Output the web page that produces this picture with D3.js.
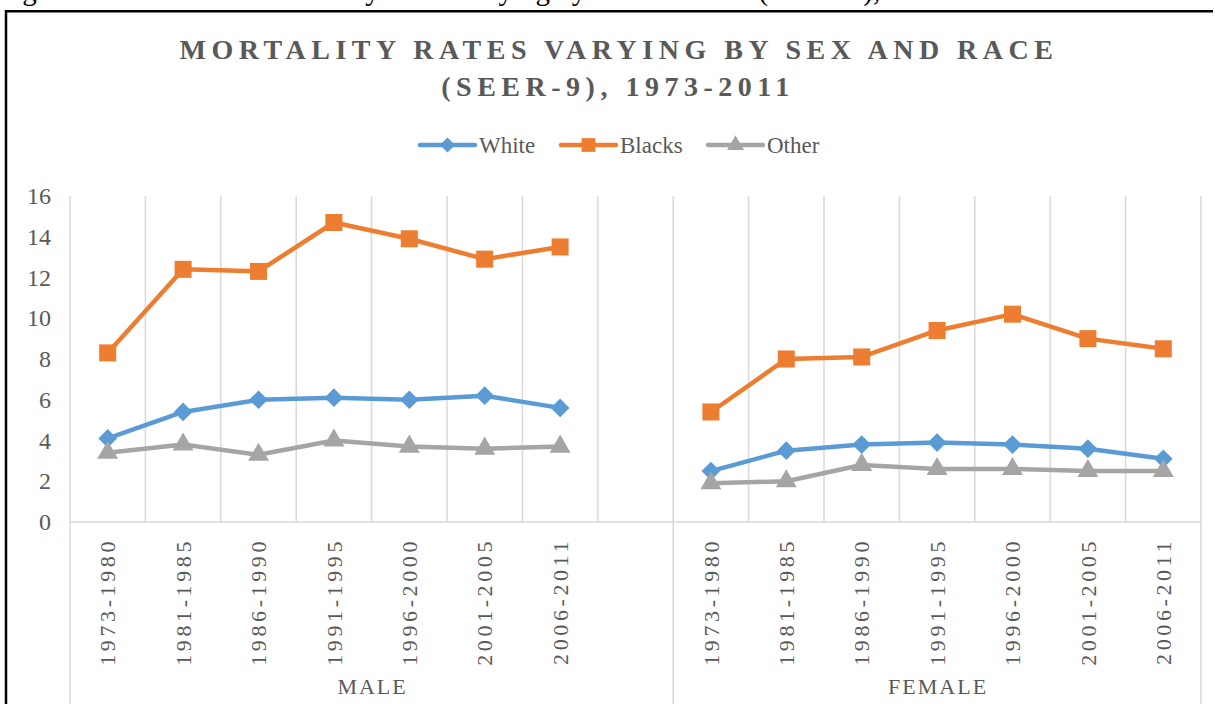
<!DOCTYPE html>
<html>
<head>
<meta charset="utf-8">
<script src="https://cdn.jsdelivr.net/npm/d3@7"></script>
<style>
    html, body { margin: 0; padding: 0; background: #fff; }
    svg { display: block; font-family: "Liberation Serif", "Times New Roman", serif; }
</style>
</head>
<body>
<svg id="chart" width="1215" height="704"></svg>
<script>
(function() {
    // chart data
    const periods = ['1973-1980', '1981-1985', '1986-1990', '1991-1995', '1996-2000', '2001-2005', '2006-2011'];
    const groups = ['MALE', 'FEMALE'];
    const whiteMale = [4.1, 5.4, 6.0, 6.1, 6.0, 6.2, 5.6];
    const whiteFemale = [2.5, 3.5, 3.8, 3.9, 3.8, 3.6, 3.1];
    const blacksMale = [8.3, 12.4, 12.3, 14.7, 13.9, 12.9, 13.5];
    const blacksFemale = [5.4, 8.0, 8.1, 9.4, 10.2, 9.0, 8.5];
    const otherMale = [3.4, 3.8, 3.3, 4.0, 3.7, 3.6, 3.7];
    const otherFemale = [1.9, 2.0, 2.8, 2.6, 2.6, 2.5, 2.5];
    const yTicks = [0, 2, 4, 6, 8, 10, 12, 14, 16];

    // diamond drawn as a square turned by 45 degrees (Excel style)
    const series = [
        { name: 'White', color: '#5B9BD5', symbol: d3.symbolSquare, size: 175, rot: 45, male: whiteMale, female: whiteFemale },
        { name: 'Blacks', color: '#ED7D31', symbol: d3.symbolSquare, size: 290, rot: 0, male: blacksMale, female: blacksFemale },
        { name: 'Other', color: '#A5A5A5', symbol: d3.symbolTriangle, size: 190, rot: 0, male: otherMale, female: otherFemale }
    ];

    const textColor = '#595959';
    const gridColor = '#D9D9D9';
    const svg = d3.select('#chart');

    // caption of the page, cut off at the top
    svg.append('text')
        .attr('x', -2)
        .attr('y', 0)
        .attr('fill', '#000')
        .style('font-size', '29px')
        .text('Figure 4. Consolidated Mortality Rates Varying by Sex and Race (SEER-9), 1973-2011');

    // chart frame
    svg.append('path')
        .attr('d', 'M6,704 V11.3 H1213')
        .attr('fill', 'none')
        .attr('stroke', '#000')
        .attr('stroke-width', 2.5);

    // category slots: male periods, an empty slot, female periods
    const slots = periods.map(p => 'M' + p).concat(['gap']).concat(periods.map(p => 'F' + p));
    const x = d3.scaleBand().domain(slots).range([70, 1201]);
    const y = d3.scaleLinear().domain([0, 16]).range([522, 196]);

    // vertical gridlines at slot boundaries
    const bounds = slots.map(s => x(s)).concat([x.range()[1]]);
    svg.append('g')
        .selectAll('line')
        .data(bounds)
        .enter()
        .append('line')
        .attr('x1', d => d).attr('x2', d => d)
        .attr('y1', y(16)).attr('y2', y(0))
        .attr('stroke', gridColor)
        .attr('stroke-width', 1.5);

    // group separators below the axis
    const groupEdges = [x('M' + periods[0]), x('F' + periods[0]), x.range()[1]];
    svg.append('g')
        .selectAll('line')
        .data(groupEdges)
        .enter()
        .append('line')
        .attr('x1', d => d).attr('x2', d => d)
        .attr('y1', y(0)).attr('y2', 704)
        .attr('stroke', gridColor)
        .attr('stroke-width', 1.5);

    // x axis line
    svg.append('line')
        .attr('x1', 70).attr('x2', 1201)
        .attr('y1', y(0)).attr('y2', y(0))
        .attr('stroke', gridColor)
        .attr('stroke-width', 1.5);

    // y axis labels
    const yAxis = d3.axisLeft(y).tickValues(yTicks).tickSize(0).tickPadding(19);
    const yg = svg.append('g').attr('transform', 'translate(70,0)').call(yAxis);
    yg.select('.domain').remove();
    yg.selectAll('text')
        .attr('fill', textColor)
        .style('font-family', '"Liberation Serif", serif')
        .style('font-size', '24px');

    // rotated period labels
    const half = x.bandwidth() / 2;
    svg.append('g')
        .selectAll('text')
        .data(slots.filter(s => s !== 'gap'))
        .enter()
        .append('text')
        .attr('transform', d => 'translate(' + (x(d) + half) + ',538) rotate(-90)')
        .attr('dy', '0.35em')
        .attr('text-anchor', 'end')
        .attr('fill', textColor)
        .style('font-size', '22px')
        .style('letter-spacing', '3.6px')
        .text(d => d.slice(1));

    // group labels
    const groupCenters = [(groupEdges[0] + groupEdges[1]) / 2, (groupEdges[1] + groupEdges[2]) / 2];
    svg.append('g')
        .selectAll('text')
        .data(groups)
        .enter()
        .append('text')
        .attr('x', (d, i) => groupCenters[i] + 1)
        .attr('y', 694)
        .attr('text-anchor', 'middle')
        .attr('fill', textColor)
        .style('font-size', '22px')
        .style('letter-spacing', '2px')
        .text(d => d);

    // lines and markers
    const line = d3.line().x(d => d.x).y(d => d.y);
    series.forEach(function(s) {
        const parts = [
            s.male.map((v, i) => ({ x: x('M' + periods[i]) + half, y: y(v) })),
            s.female.map((v, i) => ({ x: x('F' + periods[i]) + half, y: y(v) }))
        ];
        const g = svg.append('g');
        parts.forEach(function(pts) {
            g.append('path')
                .attr('d', line(pts))
                .attr('fill', 'none')
                .attr('stroke', s.color)
                .attr('stroke-width', 4.5)
                .attr('stroke-linejoin', 'round');
            g.selectAll(null)
                .data(pts)
                .enter()
                .append('path')
                .attr('d', d3.symbol().type(s.symbol).size(s.size))
                .attr('transform', d => 'translate(' + d.x + ',' + d.y + ') rotate(' + s.rot + ')')
                .attr('fill', s.color);
        });
    });

    // title
    const title = svg.append('text')
        .attr('text-anchor', 'middle')
        .attr('fill', textColor)
        .style('font-size', '28px')
        .style('font-weight', 'bold')
        .style('letter-spacing', '5.5px');
    title.append('tspan').attr('x', 619).attr('y', 59).text('MORTALITY RATES VARYING BY SEX AND RACE');
    title.append('tspan').attr('x', 618).attr('y', 96).text('(SEER-9), 1973-2011');

    // legend
    const legendX = [420, 561, 708];
    const legend = svg.append('g')
        .selectAll('g')
        .data(series)
        .enter()
        .append('g')
        .attr('transform', (d, i) => 'translate(' + legendX[i] + ',145)');
    legend.append('line')
        .attr('x1', 0).attr('x2', 55)
        .attr('stroke', d => d.color)
        .attr('stroke-width', 4.5)
        .attr('stroke-linecap', 'round');
    legend.append('path')
        .attr('d', d => d3.symbol().type(d.symbol).size(d.size * 0.65)())
        .attr('transform', d => 'translate(27.5,0) rotate(' + d.rot + ')')
        .attr('fill', d => d.color);
    legend.append('text')
        .attr('x', 59)
        .attr('y', 7.5)
        .attr('fill', textColor)
        .style('font-size', '23px')
        .text(d => d.name);
})();
</script>
</body>
</html>
